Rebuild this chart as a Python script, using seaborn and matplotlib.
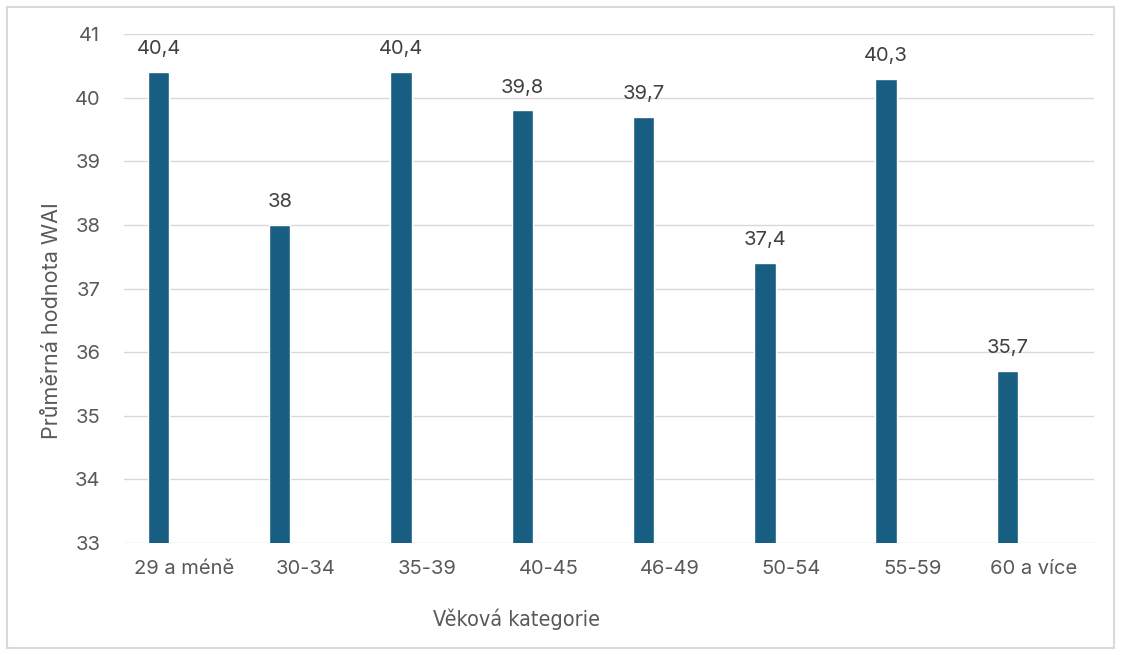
import pandas as pd
import matplotlib.pyplot as plt
import seaborn as sns

# data
kategorie = ["29 a méně", "30-34", "35-39", "40-45", "46-49", "50-54", "55-59", "60 a více"]
wai = [40.4, 38.0, 40.4, 39.8, 39.7, 37.4, 40.3, 35.7]
popisky = ["40,4", "38", "40,4", "39,8", "39,7", "37,4", "40,3", "35,7"]

df = pd.DataFrame({"kategorie": kategorie, "wai": wai, "serie": "WAI"})

sns.set_style("white")
plt.rcParams['font.family'] = ['Inter', 'DejaVu Sans']

fig = plt.figure(figsize=(11.21, 6.55), dpi=100)
ax = fig.add_axes([0.1106, 0.171, 0.8654, 0.777])

# druhá (prázdná) řada -> sloupec posunutý doleva jako v Excelu
sns.barplot(data=df, x="kategorie", y="wai", hue="serie", hue_order=["WAI", "_prazdna"],
            palette={"WAI": "#175E82", "_prazdna": "#175E82"}, width=0.86, gap=0.59,
            dodge=True, legend=False, saturation=1, ax=ax)

ax.bar_label(ax.containers[0], labels=popisky, padding=10, fontsize=14.5, color="#404040")

ax.set_ylim(33, 41)
ax.set_yticks(range(33, 42))
ax.grid(axis="y", color="#d9d9d9", linewidth=1)
ax.set_axisbelow(True)
for s in ax.spines.values():
    s.set_visible(False)
ax.tick_params(axis="both", length=0, labelsize=14.5, labelcolor="#595959")
ax.tick_params(axis="y", pad=17)
ax.tick_params(axis="x", pad=12)

ax.set_xlabel("")
ax.set_ylabel("")
fig.text(0.461, 0.055, "Věková kategorie", ha="center", va="center", fontsize=15.5,
         color="#595959", family=["Liberation Sans Narrow", "DejaVu Sans"], stretch="condensed")
fig.text(0.046, 0.511, "Průměrná hodnota WAI", ha="center", va="center", rotation=90,
         fontsize=15.5, color="#595959")

# rámeček kolem grafu
fig.patches.append(plt.Rectangle((0.0065, 0.011), 0.987, 0.978, transform=fig.transFigure,
                                 fill=False, edgecolor="#d9d9d9", linewidth=1.5))

plt.savefig("out.png", dpi=100)
